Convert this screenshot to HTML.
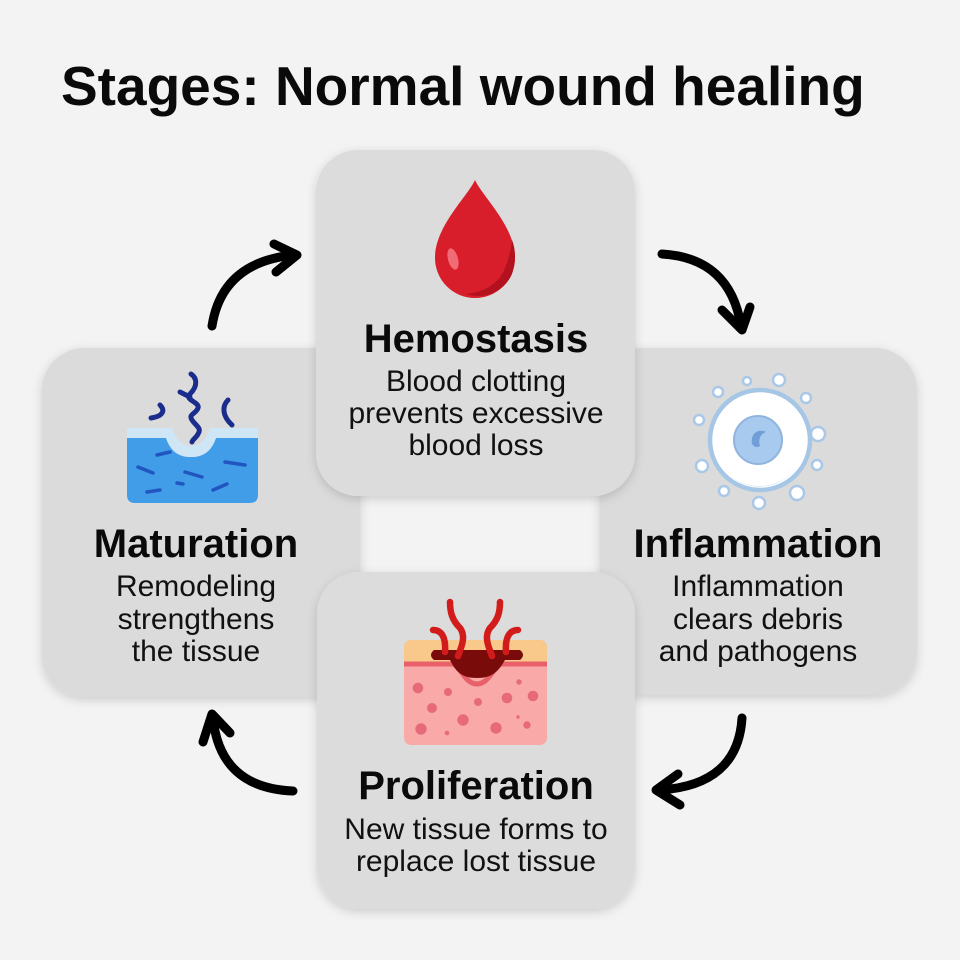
<!DOCTYPE html>
<html>
<head>
<meta charset="utf-8">
<style>
  html,body{margin:0;padding:0;background:#f3f3f3;}
  svg{display:block;}
  text{font-family:"Liberation Sans",Arial,sans-serif;}
</style>
</head>
<body>
<svg width="960" height="960" viewBox="0 0 960 960" xmlns="http://www.w3.org/2000/svg">
  <defs>
    <filter id="sh" x="-10%" y="-10%" width="120%" height="125%">
      <feDropShadow dx="0" dy="3" stdDeviation="5" flood-color="#000" flood-opacity="0.16"/>
    </filter>
  </defs>
  <rect width="960" height="960" fill="#f3f3f3"/>

  <!-- Title -->
  <text x="61" y="105" font-size="55" font-weight="bold" fill="#0a0a0a">Stages: Normal wound healing</text>

  <!-- Back cards -->
  <rect x="42" y="348" width="318" height="349" rx="42" fill="#dbdbdb" filter="url(#sh)"/>
  <rect x="600" y="348" width="317" height="347" rx="42" fill="#dbdbdb" filter="url(#sh)"/>
  <!-- Front cards -->
  <rect x="316" y="150" width="319" height="346" rx="42" fill="#dcdcdc" filter="url(#sh)"/>
  <rect x="317" y="572" width="318" height="337" rx="42" fill="#dcdcdc" filter="url(#sh)"/>

  <!-- Blood drop -->
  <path d="M475,180 C468,196 435,226 435,258 A40,40 0 0 0 515,258 C515,226 482,196 475,180 Z" fill="#d81e2a"/>
  <path d="M512,240 C516,250 516,262 512,274 C504,292 485,300 466,294 C486,292 500,282 505,268 C509,258 511,249 512,240 Z" fill="#b3111d"/>
  <ellipse cx="453" cy="259" rx="5" ry="11" transform="rotate(-15 453 259)" fill="#f06b75"/>

  <!-- Hemostasis text -->
  <text x="476" y="352" font-size="40" font-weight="bold" text-anchor="middle" fill="#0a0a0a">Hemostasis</text>
  <text x="476" y="391" font-size="30" text-anchor="middle" fill="#111">Blood clotting</text>
  <text x="476" y="423" font-size="30" text-anchor="middle" fill="#111">prevents excessive</text>
  <text x="476" y="455" font-size="30" text-anchor="middle" fill="#111">blood loss</text>

  <!-- Inflammation icon -->
  <g stroke="#a9c8e8" stroke-width="2.5" fill="#ffffff">
    <circle cx="718" cy="392" r="5"/>
    <circle cx="747" cy="381" r="4"/>
    <circle cx="779" cy="380" r="6"/>
    <circle cx="806" cy="398" r="5"/>
    <circle cx="818" cy="434" r="7"/>
    <circle cx="817" cy="465" r="5"/>
    <circle cx="797" cy="493" r="7"/>
    <circle cx="759" cy="503" r="6"/>
    <circle cx="724" cy="491" r="5"/>
    <circle cx="702" cy="466" r="6"/>
    <circle cx="699" cy="420" r="5"/>
  </g>
  <circle cx="760" cy="440" r="50" fill="#ffffff" stroke="#a6c6e6" stroke-width="4.5"/>
  <path d="M795,470 A46,46 0 0 1 730,476 A48,48 0 0 0 795,470 Z" fill="#dbe8f5"/>
  <circle cx="758" cy="440" r="24" fill="#a8caef" stroke="#8fb4de" stroke-width="2"/>
  <path d="M752,444 C750,434 758,428 766,432 C760,434 758,440 760,446 C757,448 754,447 752,444 Z" fill="#6f9fd6"/>

  <!-- Inflammation text -->
  <text x="758" y="557" font-size="40" font-weight="bold" text-anchor="middle" fill="#0a0a0a">Inflammation</text>
  <text x="758" y="596" font-size="30" text-anchor="middle" fill="#111">Inflammation</text>
  <text x="758" y="629" font-size="30" text-anchor="middle" fill="#111">clears debris</text>
  <text x="758" y="661" font-size="30" text-anchor="middle" fill="#111">and pathogens</text>

  <!-- Maturation icon -->
  <path d="M127,438 H166 C171,452 179,457 191,457 C203,457 211,452 216,438 H258 V495 Q258,503 250,503 H135 Q127,503 127,495 Z" fill="#429de9"/>
  <path d="M127,428 H172 C176,440 182,446 191,446 C200,446 206,440 210,428 H258 V438 H216 C211,452 203,457 191,457 C179,457 171,452 166,438 H127 Z" fill="#cfe6f7"/>
  <g stroke="#2156c0" stroke-width="3.5" stroke-linecap="round" fill="none">
    <path d="M157,455 L170,452"/>
    <path d="M138,467 L153,473"/>
    <path d="M185,472 L202,477"/>
    <path d="M225,462 L245,465"/>
    <path d="M177,483 L183,484"/>
    <path d="M147,492 L160,490"/>
    <path d="M213,490 L227,484"/>
  </g>
  <g stroke="#1a2d8c" stroke-width="5" stroke-linecap="round" fill="none">
    <path d="M191,374 C197,378 198,386 190,394 C184,400 200,402 198,408 C196,414 188,414 192,420 C196,426 202,428 198,434 C196,438 192,440 192,442"/>
    <path d="M180,392 L190,397"/>
    <path d="M160,405 C165,410 164,416 151,418"/>
    <path d="M228,400 C222,406 222,416 232,425"/>
  </g>

  <!-- Maturation text -->
  <text x="196" y="557" font-size="40" font-weight="bold" text-anchor="middle" fill="#0a0a0a">Maturation</text>
  <text x="196" y="596" font-size="30" text-anchor="middle" fill="#111">Remodeling</text>
  <text x="196" y="629" font-size="30" text-anchor="middle" fill="#111">strengthens</text>
  <text x="196" y="661" font-size="30" text-anchor="middle" fill="#111">the tissue</text>

  <!-- Proliferation icon -->
  <path d="M404,648 Q404,640 412,640 H539 Q547,640 547,648 V737 Q547,745 539,745 H412 Q404,745 404,737 Z" fill="#f8a9a8"/>
  <path d="M404,648 Q404,640 412,640 H539 Q547,640 547,648 V664 H404 Z" fill="#f8c98b"/>
  <path d="M404,664 H452 C460,664 464,684 477,684 C490,684 494,664 502,664 H547" stroke="#e8606a" stroke-width="5" fill="none"/>
  <path d="M434,650 H520 Q526,655 520,660 H505 C498,672 492,678 477,678 C462,678 456,672 450,660 H434 Q428,655 434,650 Z" fill="#7a0b0b"/>
  <g fill="#e66a7a">
    <circle cx="418" cy="688" r="5.3"/>
    <circle cx="448" cy="692" r="4"/>
    <circle cx="432" cy="708" r="5"/>
    <circle cx="478" cy="702" r="4"/>
    <circle cx="507" cy="698" r="5.3"/>
    <circle cx="533" cy="696" r="5.3"/>
    <circle cx="519" cy="682" r="2.7"/>
    <circle cx="463" cy="720" r="5.7"/>
    <circle cx="421" cy="729" r="5.7"/>
    <circle cx="447" cy="733" r="2.3"/>
    <circle cx="496" cy="728" r="5.7"/>
    <circle cx="527" cy="725" r="3.7"/>
    <circle cx="518" cy="717" r="1.7"/>
  </g>
  <g stroke="#d21c1c" stroke-width="6.5" stroke-linecap="round" fill="none">
    <path d="M450,602 C450,612 452,620 460,628 C466,636 462,646 458,656"/>
    <path d="M500,602 C500,612 498,620 490,628 C484,636 488,646 492,656"/>
    <path d="M433,630 C442,630 446,638 445,652"/>
    <path d="M518,630 C509,630 505,638 506,652"/>
  </g>

  <!-- Proliferation text -->
  <text x="476" y="799" font-size="40" font-weight="bold" text-anchor="middle" fill="#0a0a0a">Proliferation</text>
  <text x="476" y="839" font-size="30" text-anchor="middle" fill="#111">New tissue forms to</text>
  <text x="476" y="871" font-size="30" text-anchor="middle" fill="#111">replace lost tissue</text>

  <!-- Arrows -->
  <g stroke="#000" stroke-width="9" stroke-linecap="round" stroke-linejoin="round" fill="none">
    <path d="M212,326 Q222,262 294,255"/>
    <polyline points="274,244 297,255 276,272"/>

    <path d="M662,254 Q730,258 741,326"/>
    <polyline points="722,310 742,330 750,307"/>

    <path d="M742,718 Q738,785 660,790"/>
    <polyline points="678,774 656,790 680,805"/>

    <path d="M293,791 Q220,788 213,718"/>
    <polyline points="203,742 212,714 230,733"/>
  </g>
</svg>
</body>
</html>
